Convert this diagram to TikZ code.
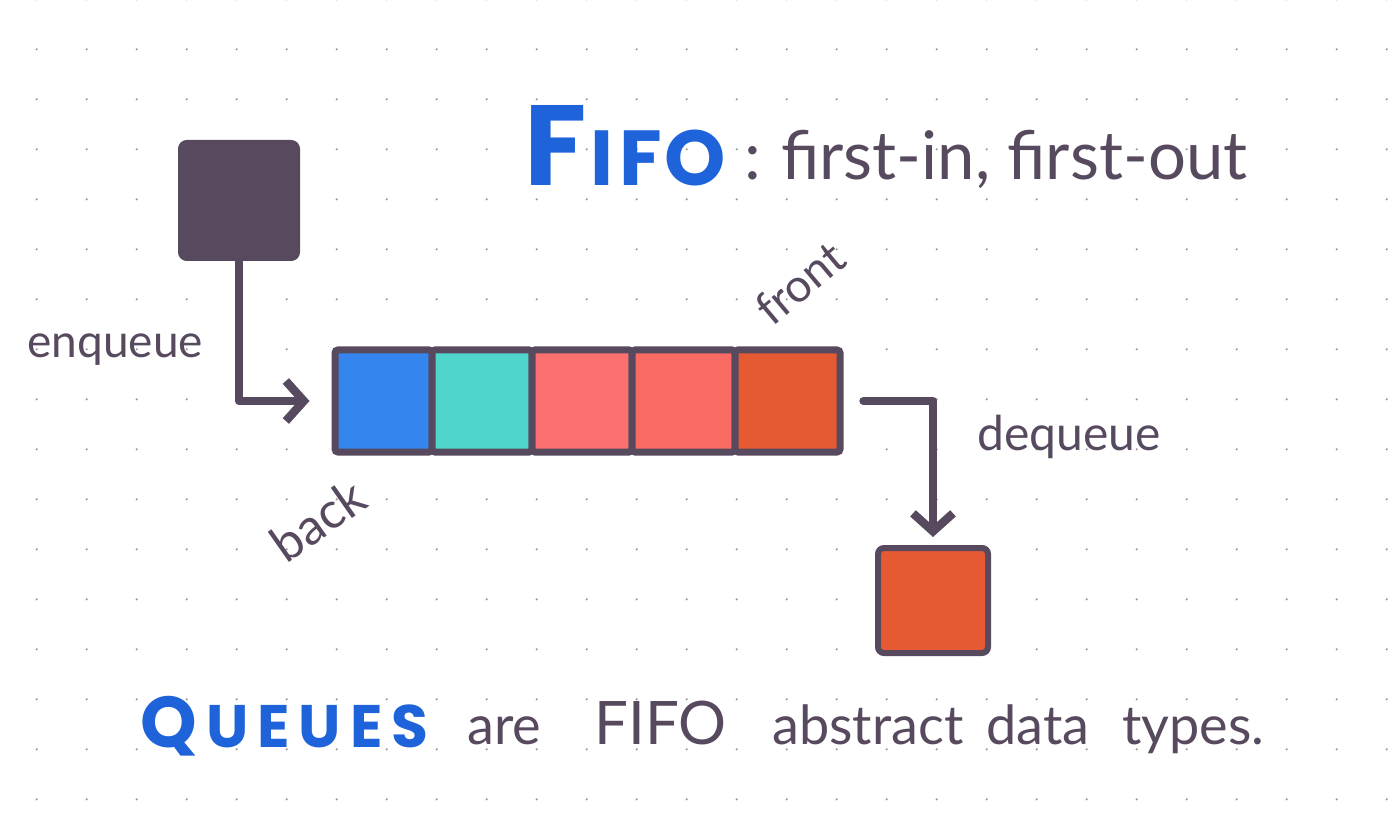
\documentclass[tikz,border=0pt]{standalone}
\usepackage{fontspec}
\usetikzlibrary{arrows.meta}
\newfontfamily\handfont{Lato}
\newfontfamily\blueface{Poppins}
\definecolor{ink}{HTML}{574A5E}
\definecolor{qblue}{HTML}{3585EE}
\definecolor{qteal}{HTML}{4FD5CC}
\definecolor{qsalmon}{HTML}{FC7070}
\definecolor{qsalmonb}{HTML}{F96B63}
\definecolor{qred}{HTML}{E55933}
\definecolor{tblue}{HTML}{1E63DA}
\definecolor{dotgray}{HTML}{9A9A9A}
\tikzset{
  cell/.style={draw=ink, line width=3.5pt, minimum height=51pt, inner sep=0pt, rounded corners=1.5pt},
  block/.style={draw=ink, line width=3pt, rounded corners=3pt, inner sep=0pt},
  arr/.style={draw=ink, line width=4.2pt, line cap=round, line join=round,
    -{Straight Barb[length=9pt,width=20pt]}},
  lbl/.style={text=ink, inner sep=0pt, font=\handfont\fontsize{23}{26}\selectfont},
  bottomtxt/.style={text=ink, inner sep=0pt, anchor=base west, font=\handfont\fontsize{27}{30}\selectfont},
  bluetxt/.style={text=tblue, inner sep=0pt, anchor=base west}
}
\begin{document}
\begin{tikzpicture}[x=0.5pt,y=-0.5pt]
\useasboundingbox (0,0) rectangle (1400,817);
\fill[white] (0,0) rectangle (1400,817);
\foreach \i in {0,...,27}{
  \foreach \j in {0,...,16}{
    \fill[dotgray] ({36.7+50*\i},{-0.7+50*\j}) circle[radius=0.6pt];
  }
}
% source item
\node[block, fill=ink, minimum width=58pt, minimum height=57.5pt] (src) at (239,200.5) {};
% queue cells
\node[cell, fill=qblue, minimum width=48.5pt] (q1) at (383.5,401) {};
\node[cell, fill=qteal, minimum width=50pt] (q2) at (482,401) {};
\node[cell, fill=qsalmon, minimum width=50pt] (q3) at (582,401) {};
\node[cell, fill=qsalmonb, minimum width=51.5pt] (q4) at (683.5,401) {};
\node[cell, fill=qred, minimum width=52.5pt] (q5) at (787.5,401) {};
% dequeued item
\node[block, fill=qred, minimum width=55pt, minimum height=52.5pt] (out) at (933,600.5) {};
% arrows
\draw[arr, shorten >=11pt] (src.south) |- (q1.west);
\draw[arr, shorten <=10pt, shorten >=4pt] (q5.east) -| (out.north);
% labels
\node[lbl, anchor=base west] (enq) at (27,358) {enqueue};
\node[lbl, anchor=base west, font=\handfont\fontsize{24}{27}\selectfont] (deq) at (977,450) {dequeue};
\node[lbl, rotate=40] (front) at (800,283) {front};
\node[lbl, rotate=35, font=\handfont\fontsize{25}{28}\selectfont] (back) at (318,520) {back};
% title
\node[bluetxt] (fifo) at (524,186) {\blueface\bfseries\fontsize{57}{60}\selectfont F\kern2pt\fontsize{39}{42}\selectfont I\kern3pt F\kern1pt O};
\node[text=ink, inner sep=0pt, anchor=base west, font=\handfont\fontsize{33.5}{38}\selectfont] (fifodef) at (744,180) {:\kern10pt first-in, first-out};
% bottom sentence
\node[bluetxt] (queues) at (140,747) {\blueface\bfseries\fontsize{36}{40}\selectfont Q\kern4.5pt\fontsize{30}{34}\selectfont U\kern4.5pt E\kern4.5pt U\kern4.5pt E\kern4.5pt S};
\node[bottomtxt] (are) at (467,744) {are};
\node[bottomtxt, font=\handfont\fontsize{30}{33}\selectfont] (fifo2) at (594,744) {FIFO};
\node[bottomtxt] (abstract) at (772,744) {abstract};
\node[bottomtxt] (data) at (986,744) {data};
\node[bottomtxt] (types) at (1122,744) {types.};
\end{tikzpicture}
\end{document}
